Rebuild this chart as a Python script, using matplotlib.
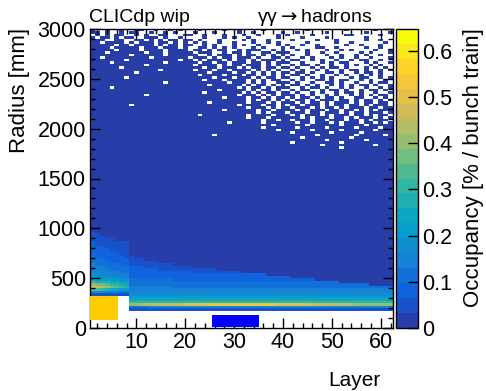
import numpy as np
import matplotlib
matplotlib.use("Agg")
import matplotlib.pyplot as plt
from matplotlib.colors import ListedColormap, LinearSegmentedColormap
from matplotlib.patches import Rectangle
from matplotlib.ticker import MultipleLocator

plt.rcParams['font.family'] = ['Liberation Sans', 'DejaVu Sans']
plt.rcParams['mathtext.fontset'] = 'dejavusans'

# ---------------- data ----------------
n_layers = 62
r_bin = 25.0
r_max = 3000.0
z_max = 0.647
n_levels = 20
level_chars = "0123456789abcdefghij"

inner_radius_front = 325.0   # layers 1-8
inner_radius_back = 175.0    # layers 9-62
front_layers = 8

# per-layer occupancy levels (one char per 25 mm radius bin, from the inner radius up)
low_profiles = [
    "15afc976554443333222221111",   # 1
    "15aeb86554443332222211111",    # 2
    "149db8655444333222221111",     # 3
    "148ca865444333222221111",      # 4
    "147b9765443332222211111",      # 5
    "147a976544333222211111",       # 6
    "1369865443332222111111",       # 7
    "1368765443332221111111",       # 8
    "13c9765444333222221111",       # 9
    "13c976544433322222111",        # 10
    "13d976544433322222111",        # 11
    "13d97654443332222111",         # 12
    "14d97654443332222111",         # 13
    "14d97654443332222111",         # 14
    "14e9765444333222111",          # 15
    "14e9765444333222111",          # 16
    "14e9765444333222111",          # 17
    "14e976544333222211",           # 18
    "14e976544333222211",           # 19
    "14f976544333222211",           # 20
    "14f976544333222211",           # 21
    "14f97654433322211",            # 22
    "14f97654433322211",            # 23
    "14f97654433322211",            # 24
    "14g97654433322211",            # 25
    "14g97654433322211",            # 26
    "14g9765443332221",             # 27
    "14g9765443332221",             # 28
    "14g9765443332221",             # 29
    "14g9765443332221",             # 30
    "14g9765443332221",             # 31
    "14g976544333222",              # 32
    "14g976544333222",              # 33
    "14g976544333222",              # 34
    "14g976544333222",              # 35
    "14g976544333222",              # 36
    "14g97654433322",               # 37
    "14g97654433322",               # 38
    "14f97654433322",               # 39
    "14f97654433322",               # 40
    "14f97654433322",               # 41
    "14f9765443332",                # 42
    "14f9765443332",                # 43
    "14f9765443332",                # 44
    "14f9765443332",                # 45
    "14e9765443332",                # 46
    "14e976544333",                 # 47
    "14e976544333",                 # 48
    "14e976544333",                 # 49
    "14e976544333",                 # 50
    "14d976544333",                 # 51
    "14d97654433",                  # 52
    "14d97654433",                  # 53
    "14d97654433",                  # 54
    "14d97654433",                  # 55
    "14c97654433",                  # 56
    "14c97654433",                  # 57
    "14c9765443",                   # 58
    "14c9765443",                   # 59
    "14c9765443",                   # 60
    "14c9765443",                   # 61
    "14c9765443",                   # 62
]

# empty bins in the outer radius region ('.' = empty), first row = 2975-3000 mm, layers 1..62
top_mask_rows = [
    "#..#..#..##..#..#.#." "..#....#..#....#...." "....#.......#.....#...",
    "##.#..#.##..#..#.#.." ".#...#....#..#.....#" "..#.....#.......#....#",
    ".#.#.##..#.#..##...#" "#..#...#...#..#...#." "#....#......##.....#..",
    "#.##.#.##..###.#..#." "...#...#.#..#.....#." "...#....#.......#.....",
    "###..##..##.#.#.##.#" "#.#...#....#.#..#..." ".#....#...#.....#..#..",
    "##.####.#.###.##.#.#" ".#.#..#..#...#..#.#." "....#.....#..#......#.",
    "#####.##.####.#.##.#" "#..#.#...#.#..#...#." "#..#..#.....#..#...#..",
    "####.#####.###.###.#" "..##.#.#.#...#.#...#" ".#....##..#.....#..#..",
    "#####.####.####.####" ".##.#.##..#.###..#.#" "..#.#...#..#.#....#..#",
    "###.#######.###.####" "#.###..#.##.#..##.##" "#...#..#..#....#.#...#",
    "########.######.####" "##..#.###.#.##.#.#.#" ".#..#...#..#..#.#..#..",
    "##.#########.#######" ".###.#.##.###.#..##." "#..#.#...#.#..#..#...#",
    "#######.##########.#" "#.#.###.#.##.#.###.#" ".##..#.#..#..#.##..#..",
    "####.##########.####" "##.##.##.###.##.#.##" "#..#...#.#.##...#.#..#",
    "###########.########" "#.####.#.##.###.#.#." ".#.##.#..#..#.#..#.#..",
    "######.#############" "###.##.###.#.##.##.#" "#.#..#.#.##.#...#.#.#.",
    "##############.#####" "#.###.##.####.#.#.#." ".#.#..#.#..#.##.#..#.#",
    "#########.##########" "####.####.##.#.#.#.#" "#.##.#..##.#..#.##.#..",
    "####################" "##.####.###.##.#.#.#" ".##.#..#..#.#..#.#.#..",
    "#######.############" "#####.###.###.#.##.#" "#..#.#.#.#...#.##..#.#",
    "####################" "###.###.####.#.#.##." ".#.#..##.#.##..#.#..#.",
    "###############.####" "########.###.#.#..##" "#.#..#..##.#..#..#.##.",
    "####################" "####.######.#.##.#.#" ".##.#.#..#.#.#.##.#..#",
    "####.###############" "##########.#.##.#.##" "#..#.##.#..#.#..#..#.#",
    "####################" "######.#####.#.##.#." ".#.##..#.##.#..#.##.#.",
    "####################" "###.#######.#.#.##.#" "#.#..#.#..#.##.#..#..#",
    "###########.########" "##########.###.#.#.#" "##.#.#..#.#..#.#.#.##.",
    "####################" "#######.####.##.#.##" ".#.##.#.##.#..##..#.#.",
    "####################" "############.#.##.#." "#.##.#.###.##.#.##.#.#",
    "####################" "####.#######.###.#.#" "##.#.##.#.###.#.##.##.",
    "########.###########" "##########.####.##.#" ".##.###.#.##.##.#.###.",
    "####################" "############.###.#.#" "#.###.#.##.#.###.##.##",
    "####################" "#######.######.##.##" "##.#.###.##.##.#.#.###",
    "####################" "##############.#.###" ".###.##.###.#.##.###.#",
    "####################" "##.#########.####.##" "#.#.###.#.###.##.#.##.",
    "####################" "############.###.###" "###.#.###.##.#.###.#.#",
    "####################" "###############.##.#" "#.###.##.###.##.#.###.",
    "####################" "########.######.####" "##.##.###.#.###.##.#.#",
    "####################" "#################.##" "####.######.####.#####",
    "####################" "###############.####" "##.#####.#####.####.##",
    "####################" "##################.#" "#####.#####.######.###",
    "####################" "####################" "#.#######.#####.######",
    "####################" "#####.##############" "######.#######.#####.#",
    "####################" "####################" "###.#########.########",
    "####################" "####################" "########.#######.#####",
    "####################" "####################" "#.#########.##########",
    "####################" "####################" "#######.##########.###",
    "####################" "####################" "###########.##########",
]

# overlay boxes (layer_from, layer_to, r_from, r_to)
orange_box = [0.5, 6.3, 85.0, 320.0]
blue_box = [25.5, 35.0, 10.0, 135.0]

# ---------------- build grid ----------------
n_rbins = int(r_max / r_bin)
grid = np.full((n_rbins, n_layers), np.nan)
for li in range(n_layers):
    start_r = inner_radius_front if li < front_layers else inner_radius_back
    b0 = int(start_r / r_bin)
    prof = low_profiles[li]
    for k in range(b0, n_rbins):
        j = k - b0
        lvl = level_chars.index(prof[j]) if j < len(prof) else 0
        grid[k, li] = (lvl + 0.5) * z_max / n_levels
for i, row in enumerate(top_mask_rows):
    k = n_rbins - 1 - i
    for li, ch in enumerate(row[:n_layers]):
        if ch == '.':
            grid[k, li] = np.nan

# ---------------- colours (ROOT kBird, 20 contours) ----------------
bird_r = [0.2082, 0.0592, 0.0780, 0.0232, 0.1802, 0.5301, 0.8186, 0.9956, 0.9764]
bird_g = [0.1664, 0.3599, 0.5041, 0.6419, 0.7178, 0.7492, 0.7328, 0.7862, 0.9832]
bird_b = [0.5293, 0.8684, 0.8385, 0.7914, 0.6425, 0.4662, 0.3499, 0.1968, 0.0539]
bird = LinearSegmentedColormap.from_list(
    "bird", [(i / 8, (bird_r[i], bird_g[i], bird_b[i])) for i in range(9)], N=255)
cols = [bird(int((i + 0.99) * 255 / n_levels) / 254) for i in range(n_levels)]
cmap = ListedColormap(cols)

# ---------------- figure ----------------
fig = plt.figure(figsize=(4.86, 3.91), dpi=100)
ax = fig.add_axes([90 / 486, 1 - 328 / 391, 303 / 486, 299 / 391])
cax = fig.add_axes([396 / 486, 1 - 328 / 391, 22 / 486, 299 / 391])

x_edges = np.arange(0.5, n_layers + 1.0, 1.0)
y_edges = np.arange(0, r_max + r_bin / 2, r_bin)
Z = np.ma.masked_invalid(grid)
mesh = ax.pcolormesh(x_edges, y_edges, Z, cmap=cmap, vmin=0, vmax=z_max,
                     shading='flat', antialiased=False, linewidth=0)

ax.add_patch(Rectangle((orange_box[0], orange_box[2]), orange_box[1] - orange_box[0],
                       orange_box[3] - orange_box[2], facecolor='#ffcc00', edgecolor='none', zorder=3))
ax.add_patch(Rectangle((blue_box[0], blue_box[2]), blue_box[1] - blue_box[0],
                       blue_box[3] - blue_box[2], facecolor='#0000ff', edgecolor='none', zorder=3))

ax.set_xlim(0.5, 62.5)
ax.set_ylim(0, 3000)
ax.xaxis.set_major_locator(MultipleLocator(10))
ax.xaxis.set_minor_locator(MultipleLocator(2))
ax.yaxis.set_major_locator(MultipleLocator(500))
ax.yaxis.set_minor_locator(MultipleLocator(100))
ax.tick_params(which='both', direction='in', top=True, right=True, labelsize=15.5, width=1, pad=3)
ax.tick_params(which='major', length=7)
ax.tick_params(which='minor', length=3.5)
for s in ax.spines.values():
    s.set_linewidth(1)

cb = fig.colorbar(mesh, cax=cax)
cb.set_ticks([0, 0.1, 0.2, 0.3, 0.4, 0.5, 0.6])
cb.ax.set_yticklabels(['0', '0.1', '0.2', '0.3', '0.4', '0.5', '0.6'])
cb.ax.tick_params(direction='in', length=7, labelsize=15.5, width=1, pad=3)
cb.outline.set_linewidth(1)
cb.ax.minorticks_off()

fig.text(89 / 486, 1 - 22 / 391, "CLICdp wip", fontsize=14, ha='left', va='baseline')
fig.text(257 / 486, 1 - 22 / 391, r"γγ$\rightarrow$hadrons", fontsize=14, ha='left', va='baseline')
fig.text(380 / 486, 1 - 386 / 391, "Layer", fontsize=15, ha='right', va='baseline')
fig.text(30 / 486, 1 - 28 / 391, "Radius [mm]", fontsize=16, ha='right', va='top', rotation=90)
fig.text(484 / 486, 1 - 28 / 391, "Occupancy [% / bunch train]", fontsize=16, ha='right',
         va='top', rotation=90)

fig.savefig("out.png", dpi=100)
